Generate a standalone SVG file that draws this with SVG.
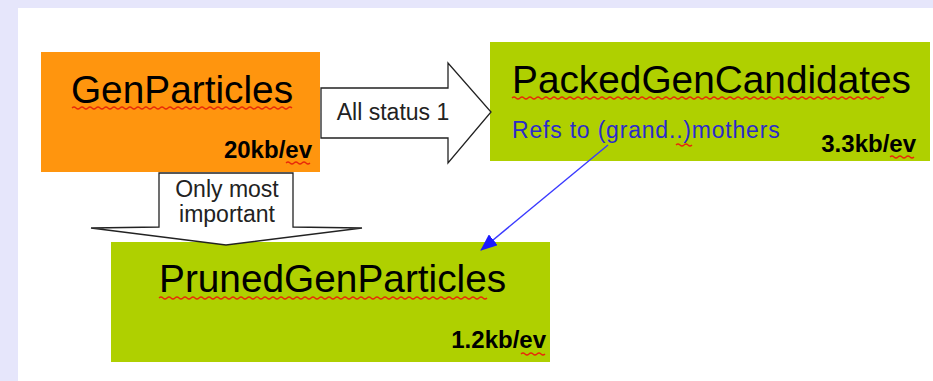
<svg xmlns="http://www.w3.org/2000/svg" width="933" height="381" viewBox="0 0 933 381">
<defs>
<style>
.t{font-family:"Liberation Sans",Arial,sans-serif;fill:#000}
.big{font-size:38.8px}
.kb{font-size:24px;font-weight:bold}
.lbl{font-size:23px;fill:#222}
.sq{fill:none;stroke:#e8280a;stroke-width:1.2}
.arr{fill:#fff;stroke:#222;stroke-width:1.3}
</style>
<marker id="bh" markerWidth="17" markerHeight="14" refX="16" refY="7" orient="auto" markerUnits="userSpaceOnUse">
<path d="M0,0 L17,7 L0,14 Z" fill="#1a1aff"/>
</marker>
</defs>
<rect x="0" y="0" width="933" height="381" fill="#e6e6fb"/>
<rect x="18" y="8" width="915" height="373" fill="#fff"/>

<g id="GenParticles">
<rect x="41" y="52" width="279" height="120" fill="#ff950e"/>
<text class="t big" x="182" y="103" text-anchor="middle">GenParticles</text>
<path class="sq" d="M72,108 q2,-2 4,0 t4,0 t4,0 t4,0 t4,0 t4,0 t4,0 t4,0 t4,0 t4,0 t4,0 t4,0 t4,0 t4,0 t4,0 t4,0 t4,0 t4,0 t4,0 t4,0 t4,0 t4,0 t4,0 t4,0 t4,0 t4,0 t4,0 t4,0 t4,0 t4,0 t4,0 t4,0 t4,0 t4,0 t4,0 t4,0 t4,0 t4,0 t4,0 t4,0 t4,0 t4,0 t4,0 t4,0 t4,0 t4,0 t4,0 t4,0 t4,0 t4,0 t4,0 t4,0 t4,0 t4,0 t4,0"/>
<text class="t kb" x="312" y="158" text-anchor="end">20kb/ev</text>
<path class="sq" d="M286,163 q2,-2 4,0 t4,0 t4,0 t4,0 t4,0 t4,0"/>
</g>

<g id="PackedGenCandidates">
<rect x="490" y="42" width="440" height="119" fill="#afd000"/>
<text class="t big" x="512" y="93">PackedGenCandidates</text>
<path class="sq" d="M512,98 q2,-2 4,0 t4,0 t4,0 t4,0 t4,0 t4,0 t4,0 t4,0 t4,0 t4,0 t4,0 t4,0 t4,0 t4,0 t4,0 t4,0 t4,0 t4,0 t4,0 t4,0 t4,0 t4,0 t4,0 t4,0 t4,0 t4,0 t4,0 t4,0 t4,0 t4,0 t4,0 t4,0 t4,0 t4,0 t4,0 t4,0 t4,0 t4,0 t4,0 t4,0 t4,0 t4,0 t4,0 t4,0 t4,0 t4,0 t4,0 t4,0 t4,0 t4,0 t4,0 t4,0 t4,0 t4,0 t4,0 t4,0 t4,0 t4,0 t4,0 t4,0 t4,0 t4,0 t4,0 t4,0 t4,0 t4,0 t4,0 t4,0 t4,0 t4,0 t4,0 t4,0 t4,0 t4,0 t4,0 t4,0 t4,0 t4,0 t4,0 t4,0 t4,0 t4,0 t4,0 t4,0 t4,0 t4,0 t4,0 t4,0 t4,0 t4,0 t4,0 t4,0 t4,0"/>
<text class="t" x="512" y="138" font-size="23" letter-spacing="0.8" style="fill:#2b2bcc">Refs to (grand..)mothers</text>
<path class="sq" d="M676,145 q2,-2 4,0 t4,0 t4,0 t4,0"/>
<text class="t kb" x="916" y="152" text-anchor="end">3.3kb/ev</text>
<path class="sq" d="M890,157 q2,-2 4,0 t4,0 t4,0 t4,0 t4,0 t4,0"/>
</g>

<g id="PrunedGenParticles">
<rect x="111" y="242" width="439" height="120" fill="#afd000"/>
<text class="t big" x="159" y="292">PrunedGenParticles</text>
<path class="sq" d="M159,298 q2,-2 4,0 t4,0 t4,0 t4,0 t4,0 t4,0 t4,0 t4,0 t4,0 t4,0 t4,0 t4,0 t4,0 t4,0 t4,0 t4,0 t4,0 t4,0 t4,0 t4,0 t4,0 t4,0 t4,0 t4,0 t4,0 t4,0 t4,0 t4,0 t4,0 t4,0 t4,0 t4,0 t4,0 t4,0 t4,0 t4,0 t4,0 t4,0 t4,0 t4,0 t4,0 t4,0 t4,0 t4,0 t4,0 t4,0 t4,0 t4,0 t4,0 t4,0 t4,0 t4,0 t4,0 t4,0 t4,0 t4,0 t4,0 t4,0 t4,0 t4,0 t4,0 t4,0 t4,0 t4,0 t4,0 t4,0 t4,0 t4,0 t4,0 t4,0 t4,0 t4,0 t4,0 t4,0 t4,0 t4,0 t4,0 t4,0 t4,0 t4,0 t4,0 t4,0"/>
<text class="t kb" x="546" y="348" text-anchor="end">1.2kb/ev</text>
<path class="sq" d="M521,354 q2,-2 4,0 t4,0 t4,0 t4,0 t4,0 t4,0"/>
</g>

<g id="connectors">
<path class="arr" d="M321,88 L448,88 L448,63 L491,112 L448,163 L448,138 L321,138 Z"/>
<path class="arr" d="M159,173 L293,173 L293,227 L362,228 L226,245 L91,228 L159,227 Z"/>
<line x1="608" y1="145" x2="481" y2="250" stroke="#3a3aff" stroke-width="1.4" marker-end="url(#bh)"/>
</g>

<g id="AllStatus1Label">
<text class="t lbl" x="393" y="120" text-anchor="middle">All status 1</text>
</g>

<g id="OnlyMostLabel">
<text class="t lbl" x="227" y="197" text-anchor="middle">Only most</text>
<text class="t lbl" x="227" y="222" text-anchor="middle">important</text>
</g>
</svg>
